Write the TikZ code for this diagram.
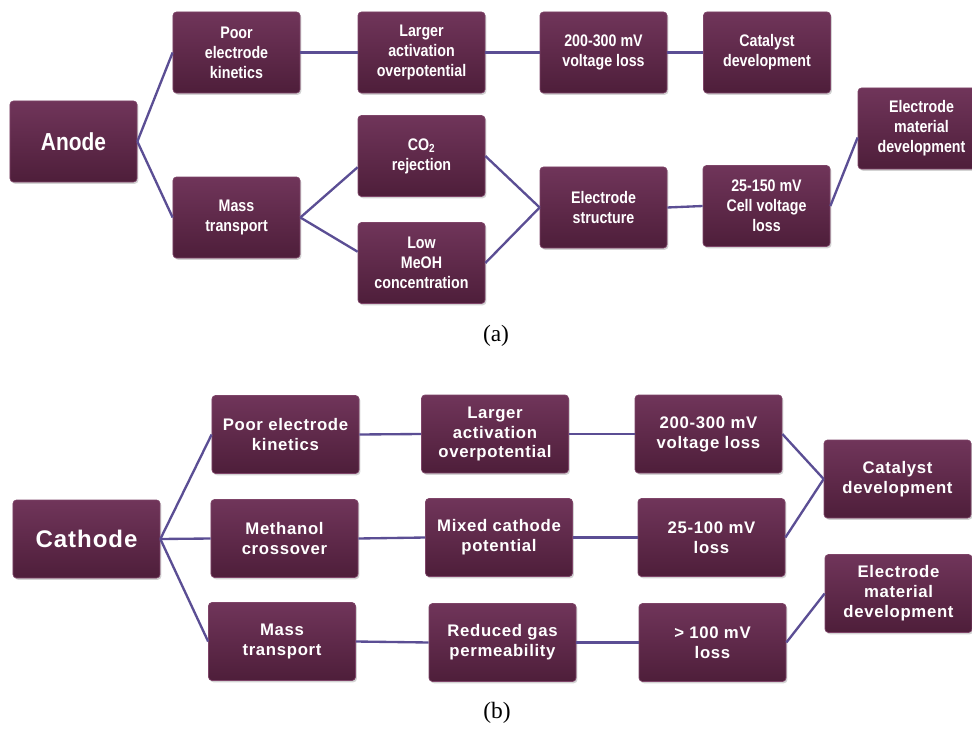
\documentclass[tikz,border=0pt]{standalone}
\usepackage{fontspec}
\setmainfont{Liberation Serif}
\newfontfamily\boxfonta[FakeStretch=0.85]{Liberation Sans}
\newfontfamily\boxfontb[LetterSpace=4]{Liberation Sans}
\usetikzlibrary{shadows}
\definecolor{MRtop}{HTML}{70355A}
\definecolor{MRbot}{HTML}{4E1E3A}
\definecolor{MRrim}{HTML}{7E4468}
\definecolor{LNviolet}{HTML}{5B4E94}

\begin{document}
\begin{tikzpicture}[x=0.03cm,y=-0.03cm,
  cell/.style={rectangle,rounded corners=3pt,draw=MRrim,line width=0.6pt,
    top color=MRtop,bottom color=MRbot,text=white,align=center,inner sep=2pt,
    drop shadow={opacity=0.35,shadow xshift=1.2pt,shadow yshift=-1.5pt}},
  cella/.style={cell,minimum width=3.81cm,minimum height=2.43cm,
    font=\boxfonta\bfseries\fontsize{14.3}{17}\selectfont},
  cellb/.style={cell,minimum width=4.41cm,minimum height=2.34cm,
    font=\boxfontb\bfseries\fontsize{14.3}{17}\selectfont},
  link/.style={LNviolet,line width=2pt},
  caption/.style={font=\fontsize{20}{24}\selectfont}]
  \useasboundingbox (0,0) rectangle (972,729);

  % (a) anode
  \node[cella,font=\boxfonta\bfseries\fontsize{21}{25}\selectfont] (anode) at (73.5,141.5) {Anode};
  \node[cella] (kinA) at (236.5,52.5) {Poor\\electrode\\kinetics};
  \node[cella] (massA) at (236.5,217.5) {Mass\\transport};
  \node[cella] (actA) at (421.5,52.5) {Larger\\activation\\overpotential};
  \node[cella] (coA) at (421.5,156) {CO\textsubscript{2}\\rejection};
  \node[cella] (meohA) at (421.5,263) {Low\\MeOH\\concentration};
  \node[cella] (lossA) at (603.5,52.5) {200-300 mV\\voltage loss};
  \node[cella] (structA) at (603.5,207.5) {Electrode\\structure};
  \node[cella] (catA) at (767,52.5) {Catalyst\\development};
  \node[cella] (cellA) at (766.5,206) {25-150 mV\\Cell voltage\\loss};
  \node[cella] (matA) at (921.5,128.5) {Electrode\\material\\development};

  \draw[link] (anode.east) -- (kinA.west);
  \draw[link] (anode.east) -- (massA.west);
  \draw[link] (kinA.east) -- (actA.west);
  \draw[link] (actA.east) -- (lossA.west);
  \draw[link] (lossA.east) -- (catA.west);
  \draw[link] (massA.east) -- (coA.190);
  \draw[link] (massA.east) -- (meohA.170);
  \draw[link] (coA.east) -- (structA.west);
  \draw[link] (meohA.east) -- (structA.west);
  \draw[link] (structA.east) -- (cellA.west);
  \draw[link] (cellA.east) -- (matA.188);
  \node[caption] (capA) at (496,336) {(a)};

  % (b) cathode
  \node[cellb,font=\boxfontb\bfseries\fontsize{20.5}{24}\selectfont] (cathode) at (86.5,539) {Cathode};
  \node[cellb] (kinB) at (285.5,434.5) {Poor electrode\\kinetics};
  \node[cellb] (crossB) at (284.5,538.5) {Methanol\\crossover};
  \node[cellb] (massB) at (282,641.5) {Mass\\transport};
  \node[cellb] (actB) at (495,434) {Larger\\activation\\overpotential};
  \node[cellb] (mixB) at (499,537.5) {Mixed cathode\\potential};
  \node[cellb] (gasB) at (502.5,642.5) {Reduced gas\\permeability};
  \node[cellb] (lossB) at (708.5,434) {200-300 mV\\voltage loss};
  \node[cellb] (midB) at (711.5,537.5) {25-100 mV\\loss};
  \node[cellb] (highB) at (712.5,642.5) {> 100 mV\\loss};
  \node[cellb] (catB) at (897.5,479) {Catalyst\\development};
  \node[cellb] (matB) at (898.5,593.5) {Electrode\\material\\development};

  \draw[link] (cathode.east) -- (kinB.west);
  \draw[link] (cathode.east) -- (crossB.west);
  \draw[link] (cathode.east) -- (massB.west);
  \draw[link] (kinB.east) -- (actB.west);
  \draw[link] (crossB.east) -- (mixB.west);
  \draw[link] (massB.east) -- (gasB.west);
  \draw[link] (actB.east) -- (lossB.west);
  \draw[link] (mixB.east) -- (midB.west);
  \draw[link] (gasB.east) -- (highB.west);
  \draw[link] (lossB.east) -- (catB.west);
  \draw[link] (midB.east) -- (catB.west);
  \draw[link] (highB.east) -- (matB.west);
  \node[caption] (capB) at (497,713) {(b)};
\end{tikzpicture}
\end{document}
